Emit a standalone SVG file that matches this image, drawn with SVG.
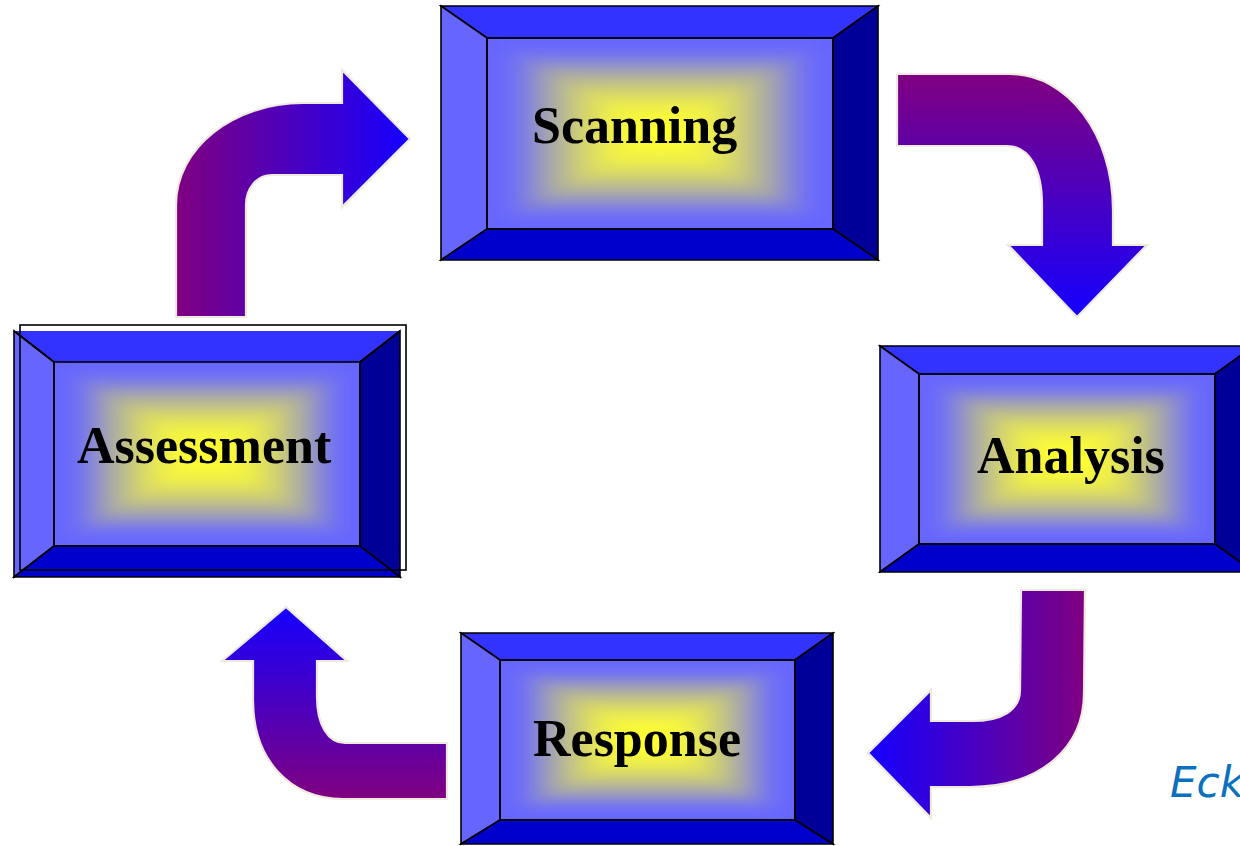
<svg xmlns="http://www.w3.org/2000/svg" width="1240" height="846" viewBox="0 0 1240 846">
<style>
.bev{stroke:#000;stroke-width:1.6;stroke-linejoin:miter}
.t{fill:#3333FF}.l{fill:#6666FF}.r{fill:#000099}.b{fill:#0000CC}
.lbl{font-family:"Liberation Serif","Times New Roman",serif;font-weight:bold;font-size:52px;fill:#000}
.arr{stroke:#EEEADF;stroke-width:2.2;stroke-linejoin:miter}
.edge{fill:none;stroke:#000;stroke-width:1.6}
</style>
<defs>
<filter id="soft" x="-10%" y="-10%" width="120%" height="120%"><feGaussianBlur stdDeviation="3.2"/></filter>
<g id="glowbox" filter="url(#soft)">
<rect x="0" y="0" width="100" height="100" fill="#6666FF"/>
<rect x="5" y="5" width="90" height="90" fill="#6E6EF5"/>
<rect x="10" y="10" width="80" height="80" fill="#8585D6"/>
<rect x="15" y="15" width="70" height="70" fill="#A3A3AD"/>
<rect x="20" y="20" width="60" height="60" fill="#BABA8F"/>
<rect x="25" y="25" width="50" height="50" fill="#D1D170"/>
<rect x="30" y="30" width="40" height="40" fill="#E3E358"/>
<rect x="35" y="35" width="30" height="30" fill="#F3F343"/>
<rect x="42" y="42" width="16" height="16" fill="#FFFF33"/>
</g>
<linearGradient id="gH" x1="0" y1="0" x2="1" y2="0"><stop offset="0" stop-color="#800080"/><stop offset="1" stop-color="#1400FF"/></linearGradient>
<linearGradient id="gV" x1="0" y1="0" x2="0" y2="1"><stop offset="0" stop-color="#800080"/><stop offset="1" stop-color="#1400FF"/></linearGradient>
<linearGradient id="gHr" x1="1" y1="0" x2="0" y2="0"><stop offset="0" stop-color="#800080"/><stop offset="1" stop-color="#1400FF"/></linearGradient>
<linearGradient id="gVr" x1="0" y1="1" x2="0" y2="0"><stop offset="0" stop-color="#800080"/><stop offset="1" stop-color="#1400FF"/></linearGradient>
<clipPath id="c1"><rect x="487" y="38" width="346" height="191"/></clipPath>
<clipPath id="c2"><rect x="54" y="362" width="306" height="184"/></clipPath>
<clipPath id="c3"><rect x="919" y="374" width="296" height="170"/></clipPath>
<clipPath id="c4"><rect x="500" y="660" width="295" height="160"/></clipPath>
</defs>
<rect width="1240" height="846" fill="#fff"/>

<g id="connectors">
<path class="arr" fill="url(#gH)" d="M176,317 L176,205 C176,148 233,103 303,103 L342,103 L342,70 L410,139 L342,207 L342,175 L272,175 C257,175 246,188 246,205 L246,317 Z"/>
<path class="arr" fill="url(#gV)" d="M897,74 L1010,74 C1068,74 1113,135 1113,210 L1113,245 L1147,245 L1077,317 L1008,245 L1042,245 L1042,205 C1042,170 1030,146 1007,146 L897,146 Z"/>
<path class="arr" fill="url(#gHr)" d="M1021,590 L1085,590 L1084,693 C1084,748 1040,787 970,787 L931,787 L931,818 L868,753 L931,690 L931,721 L972,721 C1002,721 1020,710 1020,690 Z"/>
<path class="arr" fill="url(#gVr)" d="M447,743 L447,799 L343,799 C290,799 253,760 253,700 L253,661 L222,661 L286,607 L347,661 L317,661 L317,697 C317,725 328,743 345,743 Z"/>
</g>

<g id="scanning">
<g clip-path="url(#c1)"><rect x="487" y="38" width="346" height="191" fill="#6666FF"/><use href="#glowbox" transform="translate(487,38) scale(3.46,1.91)"/></g>
<polygon class="bev t" points="441,6 878,6 833,38 487,38"/>
<polygon class="bev l" points="441,6 487,38 487,229 441,260"/>
<polygon class="bev r" points="878,6 878,260 833,229 833,38"/>
<polygon class="bev b" points="441,260 487,229 833,229 878,260"/>
<rect class="edge" x="487" y="38" width="346" height="191"/>
<text class="lbl" x="532" y="143">Scanning</text>
</g>

<g id="analysis">
<g clip-path="url(#c3)"><rect x="919" y="374" width="296" height="170" fill="#6666FF"/><use href="#glowbox" transform="translate(919,374) scale(2.96,1.70)"/></g>
<polygon class="bev t" points="880,346 1254,346 1215,374 919,374"/>
<polygon class="bev l" points="880,346 919,374 919,544 880,572"/>
<polygon class="bev r" points="1254,346 1254,572 1215,544 1215,374"/>
<polygon class="bev b" points="880,572 919,544 1215,544 1254,572"/>
<rect class="edge" x="919" y="374" width="296" height="170"/>
<text class="lbl" x="977" y="473">Analysis</text>
</g>

<g id="response">
<g clip-path="url(#c4)"><rect x="500" y="660" width="295" height="160" fill="#6666FF"/><use href="#glowbox" transform="translate(500,660) scale(2.95,1.60)"/></g>
<polygon class="bev t" points="461,633 833,633 795,660 500,660"/>
<polygon class="bev l" points="461,633 500,660 500,820 461,844"/>
<polygon class="bev r" points="833,633 833,844 795,820 795,660"/>
<polygon class="bev b" points="461,844 500,820 795,820 833,844"/>
<rect class="edge" x="500" y="660" width="295" height="160"/>
<text class="lbl" x="533" y="756">Response</text>
</g>

<g id="assessment">
<g clip-path="url(#c2)"><rect x="54" y="362" width="306" height="184" fill="#6666FF"/><use href="#glowbox" transform="translate(54,362) scale(3.06,1.84)"/></g>
<polygon class="t" points="14,331 400,331 360,362 54,362"/>
<polygon class="bev l" points="14,331 54,362 54,546 14,577"/>
<polygon class="bev r" points="400,331 400,577 360,546 360,362"/>
<polygon class="bev b" points="14,577 54,546 360,546 400,577"/>
<line class="edge" x1="14" y1="331" x2="54" y2="362"/>
<line class="edge" x1="400" y1="331" x2="360" y2="362"/>
<rect class="edge" x="54" y="362" width="306" height="184"/>
<rect class="edge" x="20" y="325" width="386" height="245"/>
<text class="lbl" x="77" y="463">Assessment</text>
</g>

<text x="1170" y="797" font-family="DejaVu Sans, Verdana, sans-serif" font-style="italic" font-size="42" fill="#0A70C0">Eck</text>
</svg>
